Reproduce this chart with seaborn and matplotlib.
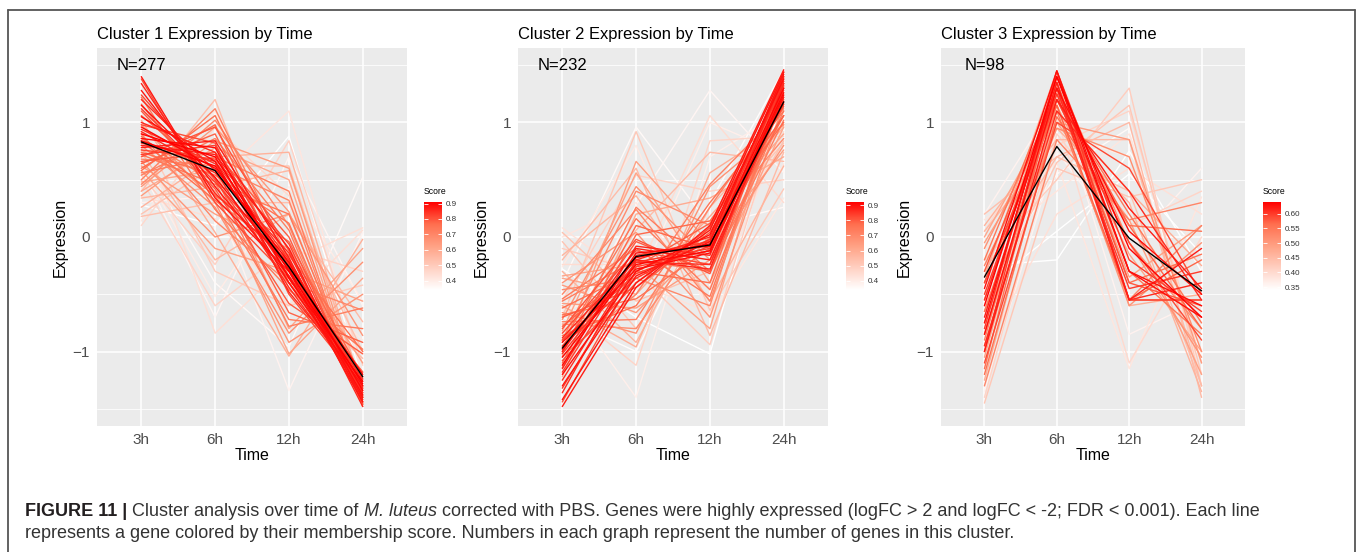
# Mfuzz-style cluster profiles, three panels + figure caption
import pandas as pd
import matplotlib
matplotlib.use("Agg")
import matplotlib.pyplot as plt
import seaborn as sns
from matplotlib.colors import LinearSegmentedColormap, Normalize
from matplotlib.cm import ScalarMappable
from matplotlib.lines import Line2D

# ---------------- data ----------------
time_labels = ["3h", "6h", "12h", "24h"]

# one row per gene: expression at 3h, 6h, 12h, 24h ; scores listed line-for-line below
c1_expr = [
    [0.84, 0.62, -0.26, -1.20], [0.90, 0.70, -0.30, -1.28], [0.96, 0.60, -0.22, -1.34],
    [0.86, 0.78, -0.36, -1.26], [1.05, 0.66, -0.40, -1.30], [1.15, 0.52, -0.28, -1.38],
    [1.28, 0.44, -0.34, -1.40], [1.40, 0.34, -0.30, -1.44], [0.78, 0.84, -0.18, -1.44],
    [0.80, 0.72, -0.10, -1.42], [1.00, 0.74, -0.48, -1.26], [1.34, 0.38, -0.22, -1.48],
    [0.92, 0.56, -0.14, -1.36], [1.20, 0.58, -0.44, -1.32], [0.82, 0.66, -0.20, -1.30],
    [0.94, 0.64, -0.34, -1.24], [1.12, 0.48, -0.24, -1.36], [0.72, 0.80, -0.28, -1.24],
    [1.24, 0.50, -0.40, -1.34], [0.76, 0.68, -0.06, -1.38], [1.38, 0.30, -0.36, -1.32],
    [0.98, 0.82, -0.50, -1.30], [0.70, 0.96, -0.12, -1.46], [1.10, 0.42, -0.58, -1.02],
    [0.66, 0.74, 0.00, -1.40], [1.06, 0.52, -0.66, -0.92], [0.64, 0.90, -0.36, -1.18],
    [0.88, 0.36, -0.04, -1.22], [0.60, 0.98, -0.40, -1.18], [0.58, 1.06, -0.24, -1.40],
    [0.84, 0.32, -0.16, -1.00], [0.74, 0.54, 0.12, -1.40], [1.22, 0.24, -0.46, -0.98],
    [0.72, 0.46, 0.20, -1.38], [1.16, 0.36, -0.72, -0.80], [0.54, 0.86, 0.06, -1.46],
    [0.86, 0.48, -0.78, -0.62], [0.56, 0.70, 0.40, -1.48], [0.50, 1.12, -0.20, -1.30],
    [0.68, 0.62, 0.32, -1.46], [0.90, 0.14, -0.40, -0.64], [0.46, 1.02, 0.10, -1.44],
    [0.98, 0.30, -0.92, -0.50], [0.80, 0.26, -0.84, -0.22], [0.44, 0.96, 0.22, -1.42],
    [0.66, 0.00, 0.20, -0.86], [0.62, 0.20, -0.10, -1.10], [0.36, 0.84, 0.60, -1.44],
    [0.76, 0.40, -1.02, -0.36], [0.58, -0.10, -0.30, -0.56], [0.40, 0.78, 0.50, -1.46],
    [0.48, 0.58, -0.80, -0.10], [1.02, 0.04, -1.04, -0.02], [0.26, 0.70, 0.74, -1.34],
    [0.34, 0.44, 0.58, -1.32], [0.40, 1.20, -0.46, -1.06], [0.74, -0.20, 0.20, -0.74],
    [0.20, 0.62, 0.62, -1.36], [0.18, 0.30, 0.30, -1.00], [0.92, -0.30, -0.60, -0.42],
    [0.54, -0.24, 0.84, -1.12], [0.50, -0.60, -0.10, -0.30], [0.10, 0.96, 0.36, -1.40],
    [0.96, -0.84, -0.22, 0.08], [0.36, 0.16, -0.60, 0.06], [0.42, 0.50, 1.10, -1.22],
    [0.14, 1.10, -0.30, -0.90], [0.62, -0.52, 0.44, -0.56], [0.30, 0.36, -1.34, 0.04],
    [0.60, -0.70, 0.70, -0.60], [0.70, -0.40, -0.96, 0.52], [0.28, 0.10, 0.88, -1.26],
]
c1_score = [
    0.91, 0.91, 0.90,
    0.90, 0.89, 0.89,
    0.88, 0.88, 0.87,
    0.87, 0.86, 0.86,
    0.85, 0.85, 0.84,
    0.84, 0.83, 0.83,
    0.82, 0.82, 0.81,
    0.81, 0.80, 0.79,
    0.79, 0.78, 0.78,
    0.77, 0.77, 0.76,
    0.76, 0.75, 0.74,
    0.74, 0.73, 0.72,
    0.72, 0.72, 0.71,
    0.70, 0.70, 0.69,
    0.66, 0.67, 0.65,
    0.66, 0.63, 0.64,
    0.61, 0.62, 0.60,
    0.61, 0.58, 0.57,
    0.56, 0.54, 0.55,
    0.52, 0.53, 0.50,
    0.48, 0.47, 0.46,
    0.44, 0.44, 0.42,
    0.41, 0.40, 0.38,
    0.37, 0.36, 0.34,
]
c1_centre = [0.83, 0.58, -0.26, -1.22]

c2_expr = [
    [-0.98, -0.18, -0.06, 1.18], [-1.05, -0.24, -0.12, 1.26], [-1.12, -0.14, -0.08, 1.30],
    [-0.92, -0.28, -0.14, 1.24], [-1.20, -0.30, 0.02, 1.38], [-1.30, -0.34, -0.04, 1.42],
    [-1.42, -0.40, 0.06, 1.44], [-1.48, -0.44, 0.10, 1.46], [-1.00, -0.10, -0.20, 1.22],
    [-0.88, -0.20, -0.28, 1.34], [-1.15, -0.08, -0.16, 1.40], [-1.25, -0.22, -0.24, 1.30],
    [-1.36, -0.20, 0.00, 1.36], [-0.95, -0.36, -0.02, 1.16], [-1.02, -0.22, -0.10, 1.28],
    [-1.18, -0.16, -0.04, 1.34], [-0.90, -0.32, -0.08, 1.22], [-1.32, -0.26, -0.12, 1.44],
    [-1.08, -0.40, 0.08, 1.32], [-0.84, -0.12, -0.24, 1.20], [-1.44, -0.30, -0.02, 1.40],
    [-0.96, -0.04, -0.30, 1.36], [-0.80, -0.02, -0.32, 1.32], [-0.78, -0.26, 0.12, 1.06],
    [-0.70, -0.44, 0.04, 1.14], [-1.14, 0.02, 0.14, 1.00], [-1.10, 0.10, -0.10, 1.06],
    [-0.62, -0.30, -0.40, 1.38], [-0.68, -0.54, -0.10, 1.34], [-0.86, -0.60, 0.30, 1.10],
    [-0.92, 0.16, -0.46, 1.24], [-0.54, -0.10, -0.52, 1.30], [-1.02, 0.26, -0.30, 1.02],
    [-0.56, -0.20, -0.30, 1.10], [-0.74, -0.72, 0.26, 1.18], [-1.04, -0.50, 0.46, 1.12],
    [-0.46, -0.36, -0.60, 1.40], [-0.50, 0.24, -0.56, 1.26], [-0.90, 0.40, 0.10, 0.86],
    [-0.76, -0.80, 0.10, 1.44], [-0.66, -0.84, 0.44, 0.98], [-0.72, 0.44, -0.20, 0.80],
    [-0.40, 0.04, -0.70, 1.16], [-0.42, -0.66, 0.00, 1.06], [-0.58, -0.62, -0.20, 1.42],
    [-1.00, 0.66, -0.06, 0.76], [-0.82, 0.56, -0.40, 0.96], [-0.34, -0.24, -0.80, 1.38],
    [-0.36, -0.50, 0.18, 0.90], [-1.22, 0.20, 0.34, 0.70], [-0.60, -0.96, 0.56, 0.98],
    [-0.30, -0.92, 0.26, 0.96], [-0.16, 0.36, -0.56, 0.62], [-0.20, 0.60, -0.86, 0.74],
    [-0.90, 0.06, 0.74, 0.66], [0.04, -0.56, -0.30, 0.84], [-0.04, -0.80, 0.10, 0.82],
    [-0.70, 0.92, -0.64, 0.42], [-0.10, -0.30, -0.94, 1.20], [-0.56, 0.54, 0.40, 0.50],
    [-0.60, -1.12, 0.84, 0.88], [-0.24, -0.24, -0.44, 0.92], [-0.84, -0.34, 1.06, 0.30],
    [0.00, 0.30, -0.60, 0.64], [0.08, -0.40, -0.66, 0.98], [-0.26, 0.80, -0.70, 0.34],
    [-0.64, -0.46, 1.00, 0.72], [-0.50, -1.40, 0.70, 1.10], [-0.94, 0.28, 1.28, 0.56],
    [-0.40, 0.96, 0.10, 0.26], [-0.70, -1.00, 0.30, 1.46], [-0.28, -0.70, -1.02, 1.26],
]
c2_score = [
    0.92, 0.91, 0.91,
    0.90, 0.90, 0.89,
    0.89, 0.88, 0.88,
    0.87, 0.87, 0.86,
    0.86, 0.85, 0.84,
    0.84, 0.83, 0.83,
    0.82, 0.82, 0.81,
    0.80, 0.81, 0.79,
    0.80, 0.78, 0.78,
    0.77, 0.76, 0.76,
    0.75, 0.74, 0.73,
    0.73, 0.72, 0.72,
    0.70, 0.70, 0.69,
    0.69, 0.67, 0.67,
    0.66, 0.65, 0.64,
    0.63, 0.62, 0.62,
    0.61, 0.60, 0.59,
    0.57, 0.57, 0.55,
    0.55, 0.53, 0.52,
    0.51, 0.49, 0.48,
    0.47, 0.45, 0.45,
    0.42, 0.43, 0.41,
    0.39, 0.39, 0.37,
    0.36, 0.35, 0.34,
]
c2_centre = [-0.97, -0.17, -0.07, 1.18]

c3_expr = [
    [-0.60, 1.40, -0.10, -0.70], [-0.85, 1.30, 0.05, -0.50], [-0.45, 1.45, -0.30, -0.70],
    [-0.75, 1.40, -0.30, -0.60], [-1.00, 1.20, 0.25, -0.45], [-0.70, 1.35, -0.55, -0.10],
    [-0.55, 1.30, -0.55, -0.40], [-0.95, 1.10, 0.40, -0.55], [-0.50, 1.25, -0.45, -0.30],
    [-1.00, 1.45, -0.20, -0.65], [-0.80, 1.45, -0.55, -0.55], [-1.10, 1.00, 0.60, -0.50],
    [-0.40, 1.20, -0.05, -0.90], [-0.30, 1.30, -0.40, -0.60], [-0.40, 1.15, -0.55, -0.20],
    [-0.85, 1.25, 0.10, -0.80], [-1.20, 1.05, 0.10, 0.05], [-1.15, 1.35, -0.40, -0.15],
    [-0.65, 1.20, 0.20, -0.75], [-0.20, 1.35, -0.30, -0.85], [-0.25, 1.10, -0.55, -0.55],
    [-0.90, 1.35, -0.55, 0.10], [-1.30, 0.85, 0.15, 0.30], [-0.65, 0.95, 0.70, -1.00],
    [-0.55, 1.40, -0.05, -0.80], [-0.95, 1.15, -0.60, -0.05], [-0.10, 1.20, -0.05, -1.05],
    [-0.75, 1.00, 0.85, -1.10], [-0.05, 1.00, 0.15, -1.20], [-1.05, 1.30, -0.35, 0.10],
    [0.00, 1.15, -0.15, -1.00], [-1.25, 1.10, 0.40, -0.25], [-0.35, 1.45, -0.60, -0.50],
    [0.10, 0.95, 0.30, -1.35], [0.05, 0.85, 0.85, -1.30], [-0.30, 0.70, 1.00, -1.40],
    [0.20, 0.70, 0.40, -1.30], [-0.60, 0.65, 1.15, -1.20], [-1.45, 0.60, 0.35, 0.50],
    [-0.20, 0.50, 1.30, -1.30], [-1.40, 0.90, 0.10, 0.40], [-0.80, 0.80, 1.10, -1.10],
    [0.05, 1.05, -1.10, 0.00], [-1.00, 0.20, 0.60, 0.20], [-0.10, 0.40, 0.90, -1.20],
    [0.15, 0.65, -1.15, 0.35], [-0.60, 0.90, 0.70, -1.00], [-1.35, 0.75, -0.10, 0.60],
    [-0.25, -0.20, 0.75, -0.30], [0.20, 1.20, -0.85, -0.55], [-0.45, 0.55, 0.95, -1.05],
    [-0.45, 0.05, 0.55, -0.15],
]
c3_score = [
    0.64, 0.63, 0.63,
    0.63, 0.62, 0.62,
    0.61, 0.61, 0.60,
    0.60, 0.60, 0.59,
    0.59, 0.58, 0.57,
    0.57, 0.56, 0.56,
    0.55, 0.55, 0.54,
    0.54, 0.53, 0.52,
    0.52, 0.51, 0.51,
    0.50, 0.49, 0.49,
    0.48, 0.47, 0.47,
    0.46, 0.45, 0.45,
    0.44, 0.43, 0.43,
    0.42, 0.41, 0.41,
    0.40, 0.39, 0.38,
    0.38, 0.37, 0.36,
    0.34, 0.36, 0.35,
    0.34,
]
c3_centre = [-0.35, 0.79, -0.01, -0.47]

cluster_sizes = [277, 232, 98]

assert len(c1_expr) == len(c1_score)
assert len(c2_expr) == len(c2_score)
assert len(c3_expr) == len(c3_score)

# ---------------- style ----------------
sns.set_theme(style="white")
plt.rcParams["font.family"] = ["Liberation Sans", "DejaVu Sans"]

W, H = 1360, 552
fig = plt.figure(figsize=(W / 100, H / 100), dpi=100)
fig.patch.set_facecolor("white")

# white -> red like scale_colour_gradient(low="white", high="red")
score_cmap = LinearSegmentedColormap.from_list(
    "score", ["#FFFFFF", "#FFD0C2", "#FFA184", "#FF6E4E", "#FF0000"])


def px_axes(x0, y0, x1, y1):
    return fig.add_axes([x0 / W, 1 - y1 / H, (x1 - x0) / W, (y1 - y0) / H])


def to_long(expr, score):
    rows = []
    for g, (vals, s) in enumerate(zip(expr, score)):
        for t, v in enumerate(vals):
            rows.append({"gene": g, "pos": t, "expr": v, "score": s})
    return pd.DataFrame(rows).sort_values(["score", "gene", "pos"])


panels = [
    dict(expr=c1_expr, score=c1_score, centre=c1_centre, box=(97, 48, 407, 426),
         cbar=(424, 202, 442, 290), ticks=[0.4, 0.5, 0.6, 0.7, 0.8, 0.9], fmt="{:.1f}"),
    dict(expr=c2_expr, score=c2_score, centre=c2_centre, box=(518, 48, 828, 426),
         cbar=(846, 202, 864, 290), ticks=[0.4, 0.5, 0.6, 0.7, 0.8, 0.9], fmt="{:.1f}"),
    dict(expr=c3_expr, score=c3_score, centre=c3_centre, box=(941, 48, 1245, 426),
         cbar=(1263, 202, 1281, 290), ticks=[0.35, 0.40, 0.45, 0.50, 0.55, 0.60], fmt="{:.2f}"),
]

for i, p in enumerate(panels):
    ax = px_axes(*p["box"])
    ax.set_facecolor("#EBEBEB")
    df = to_long(p["expr"], p["score"])
    norm = Normalize(min(p["score"]), max(p["score"]))

    sns.lineplot(data=df, x="pos", y="expr", units="gene", estimator=None,
                 hue="score", palette=score_cmap, hue_norm=norm, legend=False,
                 linewidth=1.0, sort=False, ax=ax)
    sns.lineplot(x=list(range(len(time_labels))), y=p["centre"], color="black",
                 linewidth=1.0, ax=ax)

    ax.set_xlim(-0.6, len(time_labels) - 0.4)
    ax.set_ylim(-1.65, 1.65)
    ax.set_xticks(range(len(time_labels)))
    ax.set_xticklabels(time_labels)
    ax.set_yticks([-1, 0, 1])
    ax.set_yticklabels(["\u22121", "0", "1"])
    ax.set_yticks([-1.5, -0.5, 0.5, 1.5], minor=True)
    ax.set_axisbelow(True)
    ax.grid(which="major", color="white", linewidth=1.1)
    ax.grid(which="minor", axis="y", color="white", linewidth=0.55)
    for s in ax.spines.values():
        s.set_visible(False)
    ax.tick_params(which="major", length=3, width=0.8, color="#333333",
                   labelcolor="#4D4D4D", labelsize=11, pad=2)
    ax.tick_params(which="minor", length=0)
    ax.set_xlabel("")
    ax.set_ylabel("")

    bw = p["box"][2] - p["box"][0]
    bh = p["box"][3] - p["box"][1]
    ax.text(0, 1 + 13 / bh, f"Cluster {i + 1} Expression by Time", transform=ax.transAxes,
            ha="left", va="center", fontsize=11.9, color="black")
    ax.text(-37 / bw, 0.5, "Expression", transform=ax.transAxes, rotation=90,
            ha="center", va="center", fontsize=11.5, color="black")
    ax.text(0.5, -29 / bh, "Time", transform=ax.transAxes,
            ha="center", va="center", fontsize=11.5, color="black")
    ax.text(0, 1.5, f"N={cluster_sizes[i]}", ha="center", va="center",
            fontsize=12, color="black")

    # colourbar legend
    cax = px_axes(*p["cbar"])
    cb = fig.colorbar(ScalarMappable(norm=norm, cmap=score_cmap), cax=cax)
    cb.outline.set_visible(False)
    cb.set_ticks(p["ticks"])
    cb.set_ticklabels([p["fmt"].format(t) for t in p["ticks"]])
    cax.tick_params(length=0, labelsize=5.8, pad=3, labelcolor="#333333")
    cax.hlines(p["ticks"], 0, 0.2, color="white", linewidth=0.6)
    cax.hlines(p["ticks"], 0.8, 1, color="white", linewidth=0.6)
    fig.text(p["cbar"][0] / W, 1 - 192 / H, "Score", ha="left", va="center",
             fontsize=6.2, color="black")

# ---------------- frame + caption ----------------
frame_kw = dict(transform=fig.transFigure, color="#555555", linewidth=1.3)
fig.add_artist(Line2D([8 / W, 8 / W], [0, 1 - 10 / H], **frame_kw))
fig.add_artist(Line2D([1355 / W, 1355 / W], [0, 1 - 10 / H], **frame_kw))
fig.add_artist(Line2D([8 / W, 1355 / W], [1 - 10 / H, 1 - 10 / H], **frame_kw))

renderer = fig.canvas.get_renderer()
CAP_SIZE = 13


def text_width(s, **kw):
    a = fig.text(0, 0, "|" + s + "|", fontsize=CAP_SIZE, **kw)
    b = fig.text(0, 0, "||", fontsize=CAP_SIZE, **kw)
    w = a.get_window_extent(renderer).width - b.get_window_extent(renderer).width
    a.remove()
    b.remove()
    return w


def put_runs(x, y, runs):
    for s, kw in runs:
        fig.text(x / W, 1 - y / H, s, ha="left", va="center", fontsize=CAP_SIZE, **kw)
        x += text_width(s, **{k: v for k, v in kw.items() if k != "color"})


put_runs(25, 512, [
    ("FIGURE 11 |", dict(fontweight="bold", color="#231F20")),
    (" Cluster analysis over time of ", dict(color="#333333")),
    ("M. luteus", dict(style="italic", color="#333333")),
    (" corrected with PBS. Genes were highly expressed (logFC > 2 and logFC < -2; "
     "FDR < 0.001). Each line", dict(color="#333333")),
])
put_runs(25, 534, [
    ("represents a gene colored by their membership score. Numbers in each graph "
     "represent the number of genes in this cluster.", dict(color="#333333")),
])

fig.savefig("out.png", dpi=100)
